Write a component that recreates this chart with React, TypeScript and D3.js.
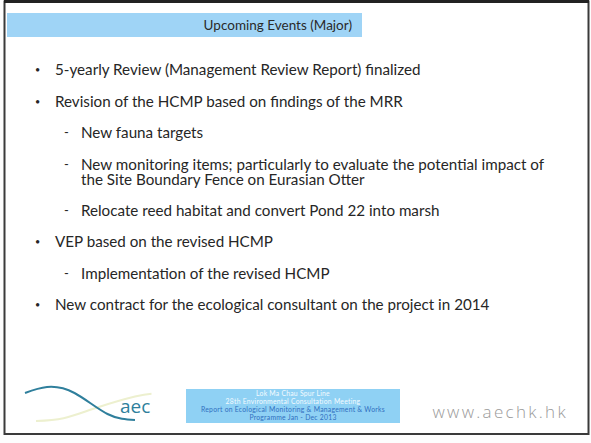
import { useMemo } from "react";
import { scaleLinear, line, curveNatural } from "d3";

const width = 591;
const height = 443;

const title = "Upcoming Events (Major)";

// level 0 = round bullet, level 1 = dash sub-item; extra strings are wrapped lines
const itemLevels = [0, 0, 1, 1, 1, 0, 1, 0];
const itemLines = [
  ["5-yearly Review (Management Review Report) finalized"],
  ["Revision of the HCMP based on findings of the MRR"],
  ["New fauna targets"],
  [
    "New monitoring items; particularly to evaluate the potential impact of",
    "the Site Boundary Fence on Eurasian Otter",
  ],
  ["Relocate reed habitat and convert Pond 22 into marsh"],
  ["VEP based on the revised HCMP"],
  ["Implementation of the revised HCMP"],
  ["New contract for the ecological consultant on the project in 2014"],
];

const footerLines = [
  "Lok Ma Chau Spur Line",
  "28th Environmental Consultation Meeting",
  "Report on Ecological Monitoring & Management & Works",
  "Programme Jan - Dec 2013",
];
const logoText = "aec";
const siteText = "www.aechk.hk";

// logo swooshes, in logo units (0..1)
const logoBlue: [number, number][] = [
  [0, 0.2], [0.2, 0.03], [0.45, 0.2], [0.75, 0.8], [1, 0.97],
];
const logoYellow: [number, number][] = [
  [0.1, 1], [0.35, 0.92], [0.65, 0.62], [1, 0.3], [1.15, 0.22],
];

const bodyFont = "Lato, 'Open Sans', sans-serif";

export default function App() {
  // cumulative slot for each item: one slot per item, a wrapped line adds ~half a slot
  const slots = useMemo(() => {
    const out: number[] = [];
    let acc = 0;
    itemLines.forEach((ls) => {
      out.push(acc);
      acc += 1 + (ls.length - 1) * 0.48;
    });
    return out;
  }, []);

  const yScale = scaleLinear().domain([0, slots[slots.length - 1]]).range([70, 305]);
  const lineGap = 15.5;

  const lx = scaleLinear().domain([0, 1]).range([25, 135]);
  const ly = scaleLinear().domain([0, 1]).range([386, 421]);
  const logoPath = line<[number, number]>()
    .x((d) => lx(d[0]))
    .y((d) => ly(d[1]))
    .curve(curveNatural);

  const fy = scaleLinear().domain([0, footerLines.length - 1]).range([393.5, 418]);

  return (
    <svg
      width={width}
      height={height}
      style={{ position: "absolute", left: 0, top: 0, background: "#fff" }}
      fontFamily={bodyFont}
    >
      <rect x={0} y={0} width={width} height={height} fill="#fdfdfd" />
      {/* slide frame */}
      <rect x={4.5} y={1.5} width={584} height={432.5} fill="#fff" stroke="#3a3a3a" strokeWidth={2} />
      <line x1={4} x2={589} y1={1.5} y2={1.5} stroke="#222" strokeWidth={3} />

      {/* title banner */}
      <rect x={7} y={13} width={355} height={24} fill="#9fd4f6" />
      <text x={352} y={25.5} dy="0.35em" textAnchor="end" fontSize={13.5} fill="#2a2a2a">
        {title}
      </text>

      {/* bullets */}
      {itemLines.map((ls, i) => {
        const lvl = itemLevels[i];
        const y0 = yScale(slots[i]);
        const tx = lvl === 0 ? 55 : 81;
        return (
          <g key={i} fill="#262626" fontSize={15.2}>
            <text x={lvl === 0 ? 35 : 64} y={y0} dy="0.35em" fontSize={lvl === 0 ? 9 : 13}>
              {lvl === 0 ? "•" : "-"}
            </text>
            <text x={tx} y={y0}>
              {ls.map((s, j) => (
                <tspan key={j} x={tx} y={y0 + j * lineGap} dy="0.35em">
                  {s}
                </tspan>
              ))}
            </text>
          </g>
        );
      })}

      {/* footer logo */}
      <path d={logoPath(logoYellow) || ""} fill="none" stroke="#edf0cf" strokeWidth={2} />
      <path d={logoPath(logoBlue) || ""} fill="none" stroke="#2f7f9c" strokeWidth={2} />
      <text x={120} y={413} fontSize={19} fill="#2f7f9c" fontFamily="'Open Sans', sans-serif">
        {logoText}
      </text>

      {/* footer banner */}
      <rect x={186} y={389} width={214} height={34} fill="#8fd1f4" />
      {footerLines.map((s, i) => (
        <text
          key={i}
          x={293}
          y={fy(i)}
          dy="0.35em"
          textAnchor="middle"
          fontSize={6.8}
          letterSpacing={0.25}
          fill={i < 2 ? "#f4fbff" : "#2f6fbf"}
        >
          {s}
        </text>
      ))}

      <text
        x={568}
        y={418}
        textAnchor="end"
        fontSize={17}
        letterSpacing={2.3}
        fill="#9a9a9a"
        fontFamily="'Open Sans', sans-serif"
        fontWeight={300}
      >
        {siteText}
      </text>
    </svg>
  );
}
